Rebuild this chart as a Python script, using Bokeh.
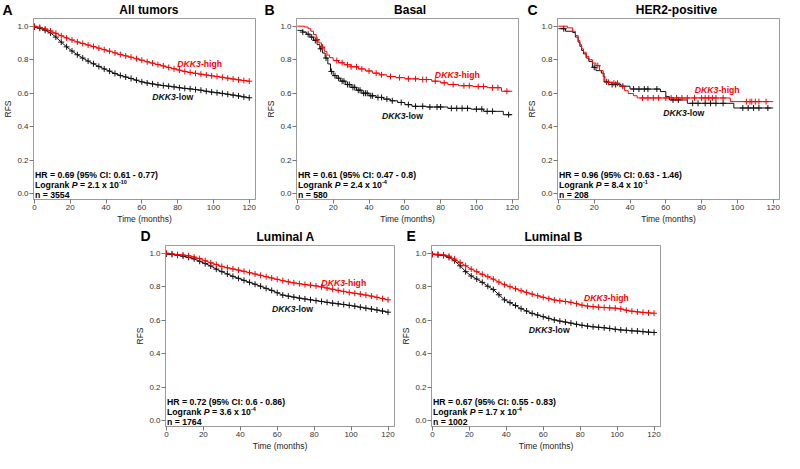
import numpy as np
from bokeh.plotting import figure
from bokeh.models import Range1d, Spacer, FixedTicker
from bokeh.layouts import row, column
from bokeh.core.properties import value
from bokeh.embed import file_html
from bokeh.resources import INLINE

# ---------------- data ----------------
x_ticks = [0, 20, 40, 60, 80, 100, 120]
y_ticks = [0.0, 0.2, 0.4, 0.6, 0.8, 1.0]
y_tick_labels = ["0.0", "0.2", "0.4", "0.6", "0.8", "1.0"]

# dense curves, read every 3 months
t_dense = [0, 3, 6, 9, 12, 15, 18, 21, 24, 27, 30, 33, 36, 39, 42, 45, 48, 51, 54, 57,
           60, 63, 66, 69, 72, 75, 78, 81, 84, 87, 90, 93, 96, 99, 102, 105, 108, 111, 114, 117, 120]

A_high = [1.0, 0.993, 0.984, 0.972, 0.958, 0.943, 0.930, 0.918, 0.906, 0.897, 0.888, 0.879, 0.869, 0.860,
          0.851, 0.841, 0.831, 0.823, 0.815, 0.806, 0.797, 0.788, 0.780, 0.771, 0.763, 0.754, 0.746, 0.738,
          0.730, 0.724, 0.719, 0.714, 0.709, 0.704, 0.700, 0.695, 0.690, 0.685, 0.680, 0.676, 0.672]
A_low = [0.995, 0.988, 0.976, 0.960, 0.935, 0.905, 0.877, 0.852, 0.830, 0.810, 0.792, 0.776, 0.760, 0.745,
         0.732, 0.718, 0.706, 0.697, 0.688, 0.678, 0.668, 0.661, 0.656, 0.650, 0.646, 0.642, 0.638, 0.633,
         0.629, 0.626, 0.622, 0.618, 0.612, 0.607, 0.603, 0.599, 0.594, 0.589, 0.584, 0.578, 0.573]

D_high = [1.0, 0.996, 0.992, 0.989, 0.985, 0.977, 0.968, 0.955, 0.943, 0.932, 0.921, 0.913, 0.906, 0.899,
          0.892, 0.884, 0.876, 0.868, 0.860, 0.852, 0.844, 0.836, 0.829, 0.823, 0.818, 0.813, 0.809, 0.805,
          0.799, 0.792, 0.785, 0.778, 0.772, 0.766, 0.761, 0.756, 0.750, 0.744, 0.737, 0.729, 0.722]
D_low = [0.995, 0.993, 0.988, 0.982, 0.975, 0.966, 0.952, 0.938, 0.924, 0.905, 0.890, 0.876, 0.862, 0.850,
         0.838, 0.826, 0.815, 0.803, 0.790, 0.778, 0.764, 0.750, 0.744, 0.738, 0.732, 0.727, 0.722, 0.717,
         0.712, 0.707, 0.702, 0.698, 0.694, 0.689, 0.684, 0.678, 0.672, 0.667, 0.661, 0.655, 0.648]

E_high = [0.995, 0.993, 0.990, 0.982, 0.965, 0.945, 0.925, 0.905, 0.890, 0.874, 0.860, 0.845, 0.828, 0.812,
          0.800, 0.788, 0.776, 0.766, 0.756, 0.746, 0.737, 0.729, 0.721, 0.716, 0.712, 0.707, 0.699, 0.690,
          0.684, 0.681, 0.678, 0.676, 0.674, 0.672, 0.668, 0.660, 0.654, 0.650, 0.647, 0.644, 0.642]
E_low = [0.993, 0.990, 0.986, 0.975, 0.955, 0.925, 0.890, 0.864, 0.846, 0.826, 0.803, 0.783, 0.752, 0.722,
         0.705, 0.688, 0.669, 0.655, 0.641, 0.631, 0.621, 0.611, 0.602, 0.595, 0.589, 0.583, 0.576, 0.570,
         0.565, 0.561, 0.558, 0.555, 0.551, 0.546, 0.542, 0.540, 0.537, 0.535, 0.532, 0.529, 0.527]

# step curves (Basal, HER2-positive)
B_high_t = [0, 4, 6, 7.5, 9, 10.5, 12, 13.5, 15, 16.5, 18, 20, 23, 26, 30, 34, 38, 42, 46, 50, 55, 60, 68,
            75, 80, 84, 90, 98, 106, 114, 120]
B_high_s = [1.0, 0.995, 0.985, 0.970, 0.950, 0.920, 0.900, 0.875, 0.850, 0.828, 0.812, 0.795, 0.782, 0.770,
            0.758, 0.745, 0.733, 0.720, 0.710, 0.700, 0.693, 0.686, 0.682, 0.672, 0.662, 0.652, 0.645, 0.640,
            0.633, 0.612, 0.612]
B_high_cens = [11, 14, 22, 25, 28, 30, 33, 36, 40, 44, 47, 52, 57, 62, 66, 70, 72, 77, 82, 87, 93, 96, 101,
               104, 109, 112, 117]
B_low_t = [0, 3, 5, 7, 9, 11, 12.5, 14, 15.5, 17, 18.5, 20, 22, 24, 27, 30, 33, 36, 40, 44, 48, 52, 56, 60,
           64, 72, 84, 97, 104, 115, 120]
B_low_s = [0.975, 0.965, 0.952, 0.935, 0.915, 0.890, 0.865, 0.840, 0.810, 0.775, 0.730, 0.705, 0.690, 0.672,
           0.652, 0.635, 0.618, 0.600, 0.585, 0.575, 0.565, 0.555, 0.545, 0.532, 0.522, 0.518, 0.510, 0.505,
           0.492, 0.472, 0.472]
B_low_cens = [3, 6, 8, 10, 13, 16, 19, 21, 23, 25, 26, 28, 29, 31, 32, 34, 35, 37, 38, 39, 41, 42, 45, 47,
              50, 53, 58, 62, 66, 70, 74, 78, 80, 86, 89, 92, 95, 100, 103, 106, 109, 118]

C_high_t = [0, 5, 8, 9.5, 11, 12, 13, 14, 15.5, 17, 19, 21, 23, 25, 26, 30, 34, 37, 39, 42, 44, 96, 120]
C_high_s = [1.0, 0.99, 0.97, 0.945, 0.915, 0.89, 0.865, 0.845, 0.82, 0.80, 0.78, 0.765, 0.735, 0.70, 0.665,
            0.66, 0.64, 0.615, 0.598, 0.585, 0.572, 0.55, 0.55]
C_high_cens = [22, 28, 31, 33, 47, 50, 53, 56, 60, 63, 66, 69, 72, 76, 80, 82, 84, 86, 88, 92, 105, 107, 108,
               110, 112, 116]
C_low_t = [0, 4, 8, 9.5, 11, 12, 13, 14, 15.5, 17, 19, 21, 24, 25.5, 28, 35, 40, 57, 60, 62, 72, 98, 120]
C_low_s = [0.985, 0.97, 0.962, 0.935, 0.905, 0.88, 0.855, 0.835, 0.81, 0.79, 0.755, 0.735, 0.72, 0.668,
           0.652, 0.642, 0.625, 0.61, 0.58, 0.56, 0.54, 0.512, 0.512]
C_low_cens = [3, 20, 27, 30, 32, 36, 42, 45, 48, 50, 55, 64, 67, 75, 78, 82, 85, 88, 92, 103, 106, 109, 112, 117]

letters = ["A", "B", "C", "D", "E"]
titles = ["All tumors", "Basal", "HER2-positive", "Luminal A", "Luminal B"]
hr_text = ["HR = 0.69 (95% CI: 0.61 - 0.77)", "HR = 0.61 (95% CI: 0.47 - 0.8)",
           "HR = 0.96 (95% CI: 0.63 - 1.46)", "HR = 0.72 (95% CI: 0.6 - 0.86)",
           "HR = 0.67 (95% CI: 0.55 - 0.83)"]
p_mant = ["2.1", "2.4", "8.4", "3.6", "1.7"]
p_exp = ["-10", "-4", "-1", "-4", "-4"]
n_text = ["3554", "580", "208", "1764", "1002"]
gene = "DKK3"
high_suffix = "-high"
low_suffix = "-low"
x_label = "Time (months)"
y_label = "RFS"
# label anchors (junction between "DKK3" and "-high"/"-low"), data coords
high_anchor = [(93, 0.772), (90, 0.709), (89.4, 0.618), (96.7, 0.82), (94.9, 0.732)]
low_anchor = [(79, 0.58), (60.4, 0.463), (71.8, 0.484), (70, 0.667), (64.9, 0.54)]
title_x = [65, 64, 67, 65.5, 66.5]

# ---------------- styling ----------------
X0, X1 = -0.5, 123.5
Y0, Y1 = -0.034, 1.046
FONT = "Liberation Sans"
RED = "#ff0000"
BLACK = "#111111"

AW = {' ': 278, '%': 889, '(': 333, ')': 333, '-': 333, '.': 278, ':': 333, '=': 584, 'C': 722, 'H': 722,
      'I': 278, 'L': 611, 'P': 667, 'R': 722, 'a': 556, 'g': 611, 'k': 556, 'n': 611, 'o': 611, 'r': 389,
      'x': 556}


def tw(s, size):
    return sum(AW.get(c, 556) for c in s) * size / 1000.0


def step_at(ts, ss, x):
    i = int(np.searchsorted(np.asarray(ts), x, side="right")) - 1
    return ss[max(i, 0)]


def make_panel(k, curves, bl, br, hh, bb, fw, fh, letter_dx, letter_y, title_y):
    ppx = fw / (X1 - X0)
    ppu = fh / (Y1 - Y0)
    W = bl + fw + br
    top = 1
    # header strip: letter + title
    h = figure(width=W, height=hh, x_range=Range1d(X0 - bl / ppx, X1 + br / ppx), y_range=Range1d(0, hh),
               toolbar_location=None, output_backend="svg", title=None, x_axis_location=None,
               y_axis_location=None, min_border_left=0, min_border_right=0, min_border_top=0,
               min_border_bottom=0, outline_line_color=None, frame_align=False)
    h.grid.visible = False
    h.text([X0 - letter_dx / ppx], [letter_y], text=[letters[k]], text_font=value(FONT), text_font_size="14px",
           text_font_style="bold", text_color="#000", text_align="left", text_baseline="middle")
    h.text([title_x[k]], [title_y], text=[titles[k]], text_font=value(FONT), text_font_size="12px",
           text_font_style="bold", text_color="#000", text_align="center", text_baseline="middle")

    p = figure(width=W, height=top + fh + bb, x_range=Range1d(X0, X1), y_range=Range1d(Y0, Y1),
               toolbar_location=None, output_backend="svg", title=None, frame_align=False,
               min_border_left=bl, min_border_right=br, min_border_top=top, min_border_bottom=bb)
    p.xgrid.visible = False
    p.ygrid.visible = False
    p.outline_line_color = "#9a9a9a"
    p.xaxis.ticker = FixedTicker(ticks=x_ticks)
    p.yaxis.ticker = FixedTicker(ticks=y_ticks)
    p.yaxis.major_label_overrides = {v: lab for v, lab in zip(y_ticks, y_tick_labels)}
    p.xaxis.axis_label = x_label
    p.yaxis.axis_label = y_label
    for ax in (p.xaxis[0], p.yaxis[0]):
        ax.major_tick_out = 4
        ax.major_tick_in = 0
        ax.minor_tick_out = 0
        ax.minor_tick_in = 0
        ax.major_label_standoff = 1
        ax.major_label_text_font = FONT
        ax.major_label_text_font_size = "8px"
        ax.major_label_text_color = "#333333"
        ax.axis_line_color = "#9a9a9a"
        ax.major_tick_line_color = "#777777"
        ax.axis_label_standoff = 1
        ax.axis_label_text_font = FONT
        ax.axis_label_text_font_size = "8.5px"
        ax.axis_label_text_font_style = "normal"
        ax.axis_label_text_color = "#222222"

    for (t, s, cens, col, dense) in curves:
        if dense:
            p.line(t, s, line_color=col, line_width=1)
            p.scatter(t, s, marker="cross", size=6, line_color=col, line_width=1)
        else:
            p.step(t, s, mode="after", line_color=col, line_width=1)
            cy = [step_at(t, s, c) for c in cens]
            p.scatter(cens, cy, marker="cross", size=6, line_color=col, line_width=1)

    # group labels
    for (ax_, ay_), suf, col in ((high_anchor[k], high_suffix, RED), (low_anchor[k], low_suffix, BLACK)):
        p.text([ax_], [ay_], text=[gene], text_font=value(FONT), text_font_size="8.7px",
               text_font_style="bold italic", text_color=col, text_align="right", text_baseline="middle")
        p.text([ax_], [ay_], text=[suf], text_font=value(FONT), text_font_size="8.7px",
               text_font_style="bold", text_color=col, text_align="left", text_baseline="middle")

    # statistics
    y_hr = Y0 + 24.5 / ppu
    y_p = Y0 + 14.3 / ppu
    y_n = Y0 + 4.8 / ppu
    x_left = 1.5
    p.text([X0], [y_hr], text=[hr_text[k]], x_offset=x_left, text_font=value(FONT), text_font_size="8.7px",
           text_font_style="bold", text_color="#000", text_align="left", text_baseline="middle")
    segs = [("Logrank", "Logrank ", "bold", 8.7, 0), ("P", "P ", "bold italic", 8.7, 0),
            ("= " + p_mant[k] + " x 10", "= " + p_mant[k] + " x 10", "bold", 8.7, 0),
            (p_exp[k], p_exp[k], "bold", 5.5, -3.2)]
    off = x_left
    for txt, adv, sty, sz, dy in segs:
        p.text([X0], [y_p], text=[txt], x_offset=off, y_offset=dy, text_font=value(FONT),
               text_font_size="%gpx" % sz, text_font_style=sty, text_color="#000", text_align="left",
               text_baseline="middle")
        off += tw(adv, sz)
    p.text([X0], [y_n], text=["n = " + n_text[k]], x_offset=x_left, text_font=value(FONT),
           text_font_size="8.7px", text_font_style="bold", text_color="#000", text_align="left",
           text_baseline="middle")
    return column(h, p)


# top row: header 17 + 1 + frame 183 + 25 = 226
pA = make_panel(0, [(t_dense, A_low, None, BLACK, True), (t_dense, A_high, None, RED, True)],
                29, 8, 17, 25, 226, 183, 27, 8, 7.5)
pB = make_panel(1, [(B_low_t, B_low_s, B_low_cens, BLACK, False), (B_high_t, B_high_s, B_high_cens, RED, False)],
                29, 6, 17, 25, 226, 183, 28, 8, 7.5)
pC = make_panel(2, [(C_low_t, C_low_s, C_low_cens, BLACK, False), (C_high_t, C_high_s, C_high_cens, RED, False)],
                29, 5, 17, 25, 226, 183, 26, 8, 7.5)
# bottom row: header 18 + 1 + frame 183 + 25 = 227
pD = make_panel(3, [(t_dense, D_low, None, BLACK, True), (t_dense, D_high, None, RED, True)],
                29, 4, 18, 25, 233, 183, 21, 9, 7.7)
pE = make_panel(4, [(t_dense, E_low, None, BLACK, True), (t_dense, E_high, None, RED, True)],
                29, 10, 18, 25, 233, 183, 21, 9, 7.7)

layout = column(row(pA, pB, pC), row(Spacer(width=132, height=227), pD, pE))

open("out.html", "w").write(file_html(layout, INLINE))
